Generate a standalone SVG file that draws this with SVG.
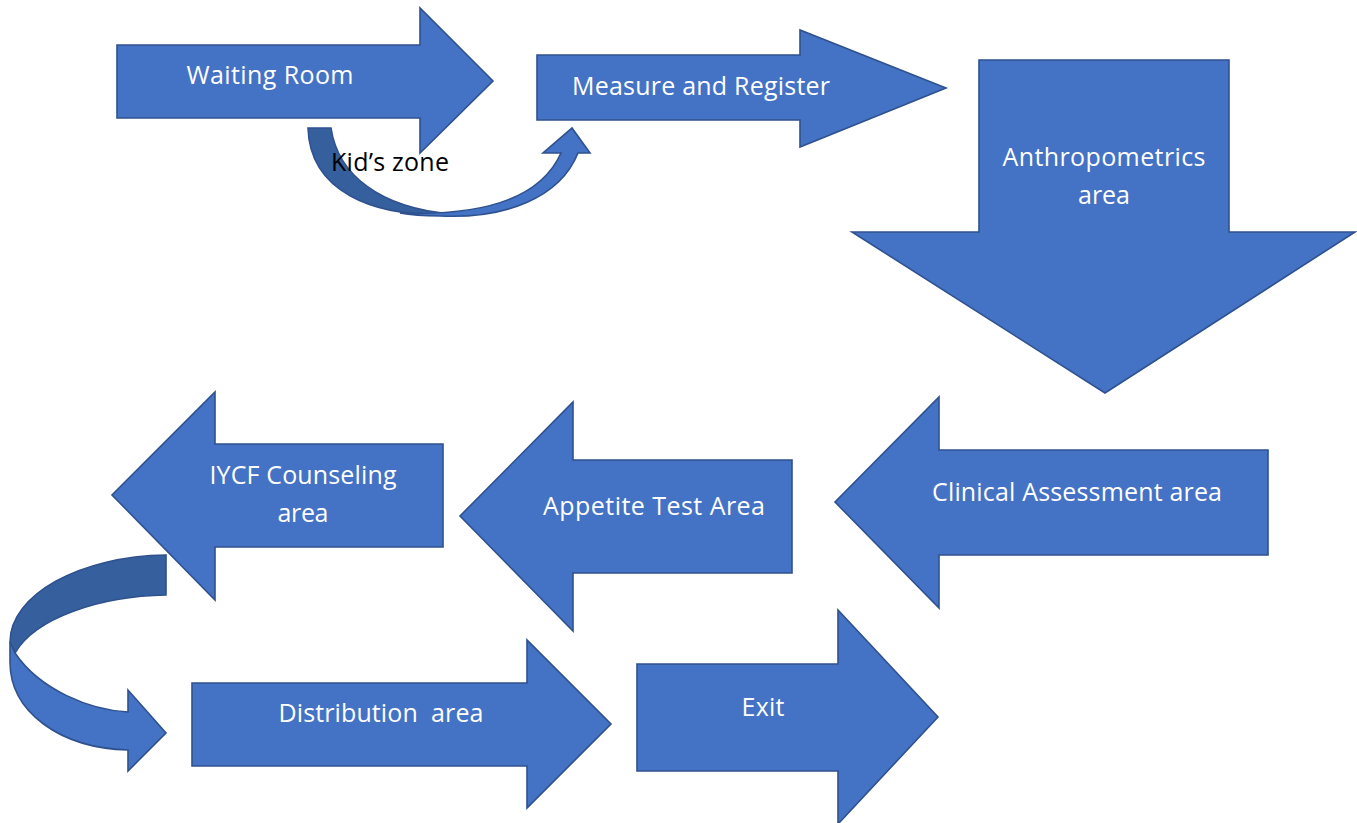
<svg xmlns="http://www.w3.org/2000/svg" width="1357" height="823" viewBox="0 0 1357 823">
<style>
.a{fill:#4472C4;stroke:#2F528F;stroke-width:1.6;stroke-linejoin:miter}
.d{fill:#365F9E;stroke:#2F528F;stroke-width:1.6}
.t{font-family:"Open Sans","Liberation Sans",sans-serif;font-size:25px;fill:#FFFFFF;text-anchor:middle}
.k{font-family:"Open Sans","Liberation Sans",sans-serif;font-size:25px;fill:#000000}
</style>
<rect width="1357" height="823" fill="#FFFFFF"/>
<g id="connectors">
  <g id="kids-zone-arrow">
    <path class="d" d="M308,128 L331,128 C338,175 380,208 452,214 C370,218 310,190 308,128 Z"/>
    <path class="a" d="M400,213 C480,216 540,200 561,153 L543,153 L572,128 L590,153 L578,153 C560,198 505,219 440,216 C425,216 410,215 400,213 Z"/>
  </g>
  <g id="loop-arrow">
    <path class="d" d="M166,555 L166,595 C100,596 35,618 15,653 L10,642 C10,595 80,556 166,555 Z"/>
    <path class="a" d="M10,642 L15,653 C40,690 90,710 128,712 L128,690 L166,733 L128,771 L128,750 C60,748 10,712 10,662 Z"/>
  </g>
</g>
<g id="waiting-room">
  <path class="a" d="M117,45 L420,45 L420,8 L493,81 L420,153 L420,118 L117,118 Z"/>
  <text class="t" x="270" y="84" textLength="167">Waiting Room</text>
</g>
<g id="kids-zone">
  <text class="k" x="331" y="171" textLength="118">Kid’s zone</text>
</g>
<g id="measure-register">
  <path class="a" d="M537,55 L800,55 L800,30 L946,88 L800,147 L800,120 L537,120 Z"/>
  <text class="t" x="701" y="95" textLength="258">Measure and Register</text>
</g>
<g id="anthropometrics">
  <path class="a" d="M979,60 L1229,60 L1229,232 L1355,232 L1105,393 L852,232 L979,232 Z"/>
  <text class="t" x="1104" y="166" textLength="203">Anthropometrics</text>
  <text class="t" x="1104" y="204" textLength="52">area</text>
</g>
<g id="clinical-assessment">
  <path class="a" d="M1268,450 L939,450 L939,397 L835,502 L939,608 L939,555 L1268,555 Z"/>
  <text class="t" x="1077" y="501" textLength="290">Clinical Assessment area</text>
</g>
<g id="appetite-test">
  <path class="a" d="M792,460 L573,460 L573,402 L460,516 L573,631 L573,573 L792,573 Z"/>
  <text class="t" x="654" y="515" textLength="222">Appetite Test Area</text>
</g>
<g id="iycf-counseling">
  <path class="a" d="M443,444 L215,444 L215,392 L112,495 L215,600 L215,547 L443,547 Z"/>
  <text class="t" x="303" y="484" textLength="187">IYCF Counseling</text>
  <text class="t" x="303" y="522" textLength="51">area</text>
</g>
<g id="distribution">
  <path class="a" d="M192,683 L527,683 L527,640 L611,724 L527,808 L527,766 L192,766 Z"/>
  <text class="t" x="381" y="722" textLength="205" xml:space="preserve">Distribution  area</text>
</g>
<g id="exit">
  <path class="a" d="M637,664 L838,664 L838,610 L938,717 L838,824 L838,771 L637,771 Z"/>
  <text class="t" x="763" y="716" textLength="43">Exit</text>
</g>
</svg>
